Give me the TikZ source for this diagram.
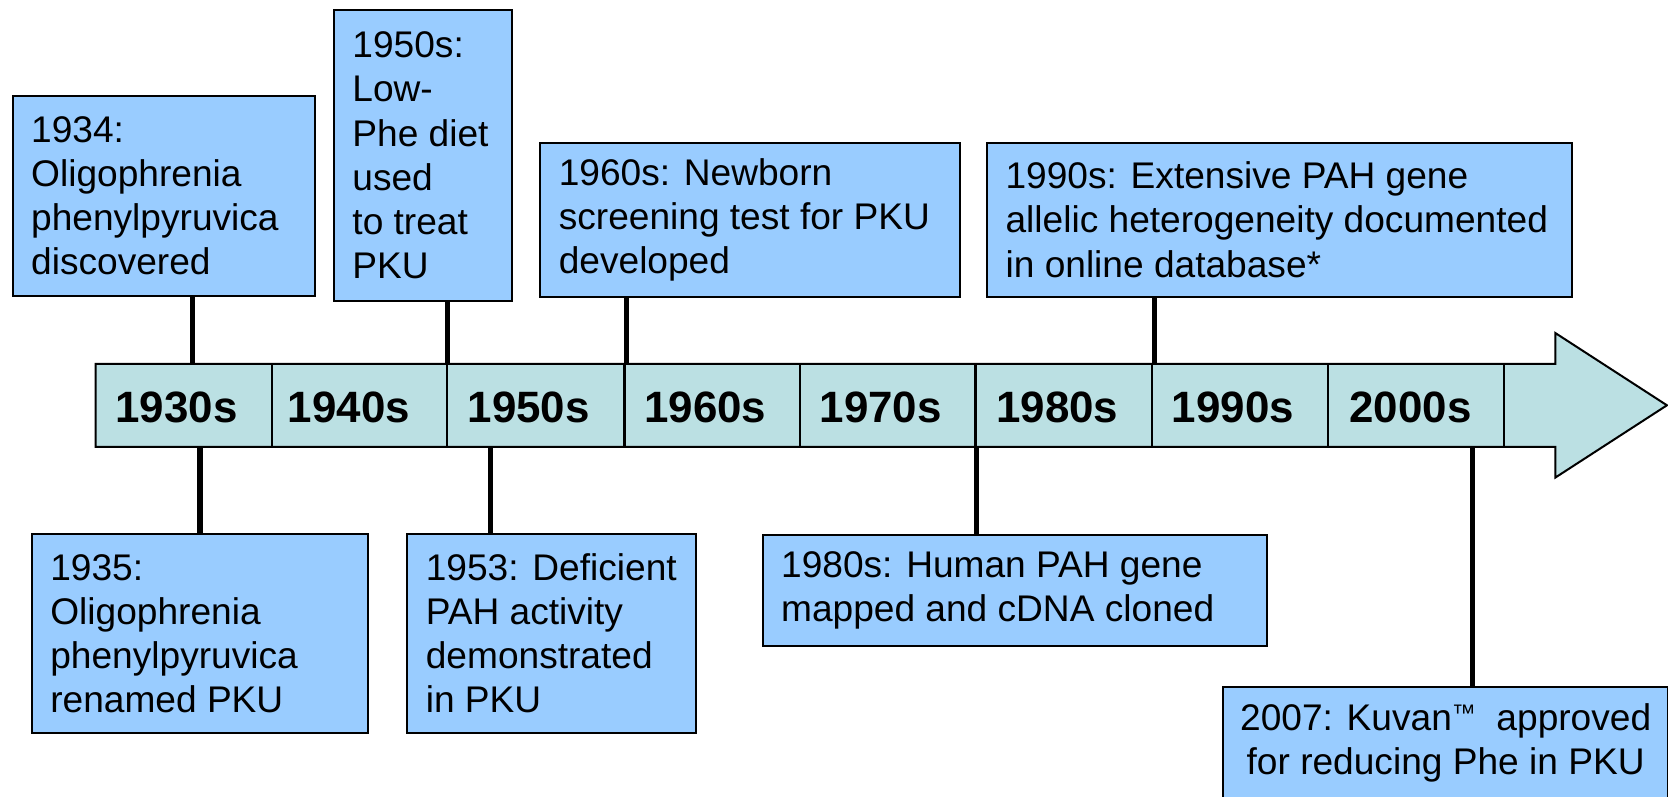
\documentclass[tikz,border=0pt]{standalone}
\usepackage{fontspec}
\setmainfont{Liberation Sans}
\definecolor{boxblue}{RGB}{153,204,255}
\definecolor{barcyan}{RGB}{187,224,227}
\newcommand\evtfont{\fontsize{27.9pt}{33.2pt}\selectfont}
\newcommand\yrfont{\fontsize{33pt}{36pt}\selectfont\bfseries}
\begin{document}
\begin{tikzpicture}[x=0.8pt,y=-0.8pt,
  evtbox/.style={draw=black, line width=1.5pt, fill=boxblue, inner sep=0pt},
  evttext/.style={anchor=west, align=left, inner sep=0pt, font=\evtfont},
  yrlabel/.style={inner sep=0pt, font=\yrfont},
  conn/.style={line width=3.9pt, black},
  divider/.style={line width=1.6pt, black}]
\useasboundingbox (0,0) rectangle (1568,749);
% timeline bar with arrow head
\draw[line width=1.5pt, fill=barcyan] (90,342) -- (1462,342) -- (1462,313) -- (1567,381) -- (1462,449) -- (1462,420) -- (90,420) -- cycle;
\foreach \x in {256,420,587,752,917,1083,1248,1414}
  \draw[divider] (\x,343) -- (\x,419);
\node[yrlabel] (y1930) at (166,383) {1930s};
\node[yrlabel] (y1940) at (328,383) {1940s};
\node[yrlabel] (y1950) at (497,383) {1950s};
\node[yrlabel] (y1960) at (663,383) {1960s};
\node[yrlabel] (y1970) at (828,383) {1970s};
\node[yrlabel] (y1980) at (994,383) {1980s};
\node[yrlabel] (y1990) at (1159,383) {1990s};
\node[yrlabel] (y2000) at (1326,383) {2000s};
% anchor points on the bar
\coordinate (t1934) at (181,342);
\coordinate (t1950) at (421,342);
\coordinate (t1960) at (589,342);
\coordinate (t1990) at (1085,342);
\coordinate (u1935) at (188,420);
\coordinate (u1953) at (461,420);
\coordinate (u1980) at (918,420);
\coordinate (u2007) at (1384,420);
% event boxes
\node[evtbox, minimum width=227.2pt, minimum height=150.4pt] (b1934) at (154,184) {};
\node[evttext] (x1934) at ([xshift=14.4pt]b1934.west) {1934:\\Oligophrenia\\phenylpyruvica\\discovered};
\node[evtbox, minimum width=133.6pt, minimum height=219.2pt] (b1950) at (397.5,146) {};
\node[evttext] (x1950) at ([xshift=14.4pt]b1950.west) {1950s:\\Low-\\Phe diet\\used\\to treat\\PKU};
\node[evtbox, minimum width=315.2pt, minimum height=116pt] (b1960) at (705,206.5) {};
\node[evttext] (x1960) at ([xshift=14.4pt]b1960.west) {1960s: Newborn\\screening test for PKU\\developed};
\node[evtbox, minimum width=440pt, minimum height=116pt] (b1990) at (1203,206.5) {};
\node[evttext] (x1990) at ([xshift=14.4pt]b1990.west) {1990s: Extensive PAH gene\\allelic heterogeneity documented\\in online database*};
\node[evtbox, minimum width=252.8pt, minimum height=149.6pt] (b1935) at (188,595.5) {};
\node[evttext] (x1935) at ([xshift=14.4pt]b1935.west) {1935:\\Oligophrenia\\phenylpyruvica\\renamed PKU};
\node[evtbox, minimum width=216.8pt, minimum height=149.6pt] (b1953) at (518.5,595.5) {};
\node[evttext] (x1953) at ([xshift=14.4pt]b1953.west) {1953: Deficient\\PAH activity\\demonstrated\\in PKU};
\node[evtbox, minimum width=379.2pt, minimum height=83.2pt] (b1980) at (954,555) {};
\node[evttext] (x1980) at ([xshift=14.4pt]b1980.west) {1980s: Human PAH gene\\mapped and cDNA cloned};
\node[evtbox, minimum width=334.4pt, minimum height=84pt, align=center, font=\evtfont] (b2007) at (1359,698.5) {2007: Kuvan\raisebox{6.5pt}{\fontsize{18pt}{18pt}\selectfont ™}\ \ approved\\for reducing Phe in PKU};
% connectors
\draw[conn] (b1934.south -| t1934) -- (t1934);
\draw[conn] (b1950.south -| t1950) -- (t1950);
\draw[conn] (b1960.south -| t1960) -- (t1960);
\draw[conn] (b1990.south -| t1990) -- (t1990);
\draw[conn] (u1935) -- (u1935 |- b1935.north);
\draw[conn] (u1953) -- (u1953 |- b1953.north);
\draw[conn] (u1980) -- (u1980 |- b1980.north);
\draw[conn] (u2007) -- (u2007 |- b2007.north);
\end{tikzpicture}
\end{document}
